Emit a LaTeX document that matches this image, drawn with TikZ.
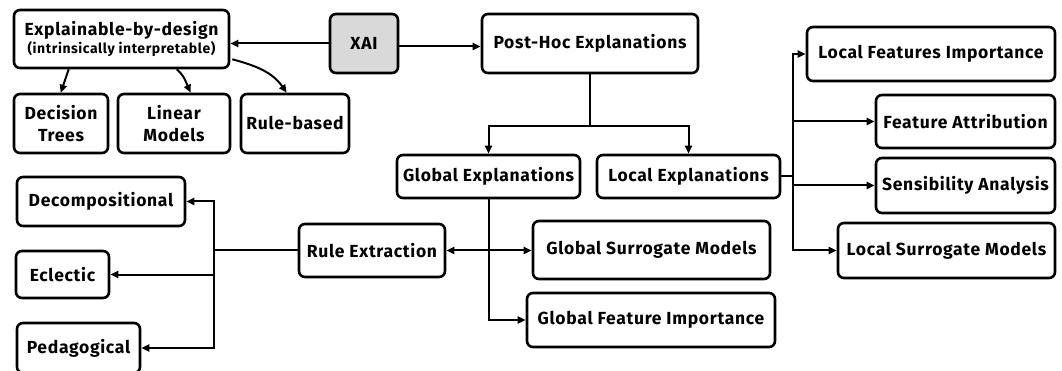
\documentclass[tikz,border=0pt]{standalone}
\usepackage{fontspec}
\setmainfont{Fira Sans}[LetterSpace=4]
\usetikzlibrary{arrows.meta,calc}

\begin{document}
\begin{tikzpicture}[x=1pt,y=1pt,
  box/.style={draw, line width=2.6pt, rounded corners=6pt, fill=white,
    inner sep=0pt, align=center, font=\bfseries\fontsize{17.5}{22}\selectfont},
  root/.style={box, fill=gray!30},
  conn/.style={line width=2pt},
  arr/.style={conn, -{Triangle[length=8pt,width=7pt]}},
  arr2/.style={conn, {Triangle[length=8pt,width=7pt]}-{Triangle[length=8pt,width=7pt]}},
]
\clip (0,0) rectangle (1062,-371);
\fill[white] (0,0) rectangle (1062,-371);

% top row
\node[box, minimum width=215, minimum height=58] (expl) at (121.5,-39)
  {Explainable-by-design\\[-4pt]{\fontsize{14}{16}\selectfont(intrinsically interpretable)}};
\node[root, minimum width=68, minimum height=59] (xai) at (364,-43.5) {XAI};
\node[box, minimum width=216, minimum height=59] (posthoc) at (590,-43.5) {Post-Hoc Explanations};

% intrinsic models
\node[box, minimum width=94, minimum height=59] (dt) at (61,-123.5) {Decision\\Trees};
\node[box, minimum width=112, minimum height=59] (lm) at (174,-123.5) {Linear\\Models};
\node[box, minimum width=108, minimum height=59] (rb) at (295,-123.5) {Rule-based};

% global / local
\node[box, minimum width=183, minimum height=43] (glob) at (488.5,-176.5) {Global Explanations};
\node[box, minimum width=183, minimum height=43] (loc) at (688.5,-176.5) {Local Explanations};

% local methods
\node[box, minimum width=248, minimum height=54] (lfi) at (931,-54) {Local Features Importance};
\node[box, minimum width=179, minimum height=53] (fa) at (965.5,-121.5) {Feature Attribution};
\node[box, minimum width=179, minimum height=55] (sa) at (965.5,-185.5) {Sensibility Analysis};
\node[box, minimum width=217, minimum height=55] (lsm) at (946.5,-250.5) {Local Surrogate Models};

% global methods
\node[box, minimum width=237, minimum height=58] (gsm) at (651.5,-250) {Global Surrogate Models};
\node[box, minimum width=248, minimum height=54] (gfi) at (651,-320) {Global Feature Importance};
\node[box, minimum width=146, minimum height=53] (re) at (372,-250.5) {Rule Extraction};

% rule extraction families
\node[box, minimum width=168, minimum height=49] (dec) at (101,-201.5) {Decompositional};
\node[box, minimum width=93, minimum height=47] (ecl) at (62.5,-274.5) {Eclectic};
\node[box, minimum width=123, minimum height=50] (ped) at (78.5,-348) {Pedagogical};

% XAI branches
\draw[arr] (xai.west) -- (xai.west -| expl.east);
\draw[arr] ([yshift=-3pt]xai.east) -- ([yshift=-3pt]xai.east -| posthoc.west);

% explainable-by-design children
\draw[arr] ([xshift=56pt]expl.south west) -- ([xshift=48pt]dt.north west);
\draw[arr] ([xshift=164pt]expl.south west) to[out=-40,in=115] ([xshift=74pt]lm.north west);
\draw[arr] ([xshift=2pt,yshift=10pt]expl.south east) to[out=-15,in=125] ([xshift=47pt]rb.north west);

% post-hoc split
\coordinate (ph) at ($(posthoc.south)+(0,-52)$);
\draw[conn] (posthoc.south) -- (ph);
\draw[arr] (ph) -| (glob.north);
\draw[arr] (ph) -| (loc.north);

% local explanation trunk
\coordinate (lt) at (793,-176.5);
\draw[conn] (loc.east) -- (lt);
\draw[arr] (lt) |- (lfi.west);
\draw[arr] (lt) |- (lsm.west);
\draw[arr] (lt |- fa.west) -- (fa.west);
\draw[arr] (lt |- sa.west) -- (sa.west);

% global explanation branches
\draw[arr] (glob.south) |- (gfi.west);
\draw[arr2] (re.east) -- (re.east -| gsm.west);

% rule extraction trunk
\coordinate (rt) at (214,-250.5);
\draw[conn] (re.west) -- (rt);
\draw[arr] (rt) |- (dec.east);
\draw[arr] (rt) |- (ped.east);
\draw[arr] (rt |- ecl.east) -- (ecl.east);
\end{tikzpicture}
\end{document}
